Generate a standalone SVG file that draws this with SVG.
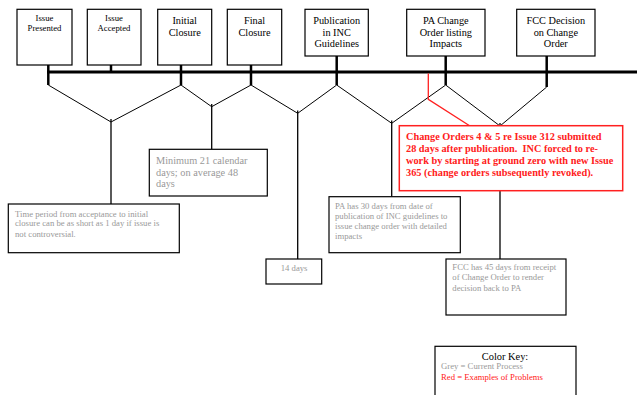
<svg xmlns="http://www.w3.org/2000/svg" width="637" height="395" viewBox="0 0 637 395">
<style>
text{font-family:"Liberation Serif","Times New Roman",serif;}
.box{fill:#fff;stroke:#000;stroke-width:1.2;}
.rbox{fill:#fff;stroke:#ff2020;stroke-width:1.5;}
.big{font-size:10.3px;fill:#000;text-anchor:middle;}
.sm{font-size:8.7px;fill:#000;text-anchor:middle;}
.g{font-size:8.7px;fill:#999;}
.gb{font-size:10.3px;fill:#999;}
.r{font-size:10.3px;fill:#ff2020;font-weight:bold;}
.thick{stroke:#000;stroke-width:3;fill:none;}
.stem{stroke:#000;stroke-width:2.5;fill:none;}
.thin{stroke:#000;stroke-width:1;fill:none;}
.drop{stroke:#000;stroke-width:1.3;fill:none;}
</style>
<rect width="637" height="395" fill="#fff"/>
<g id="connectors">
<line class="thick" x1="47" y1="72" x2="637" y2="72"/>
<line class="stem" x1="48.3" y1="65" x2="48.3" y2="85"/>
<line class="stem" x1="111" y1="65" x2="111" y2="72"/>
<line class="stem" x1="181" y1="65" x2="181" y2="85"/>
<line class="stem" x1="251" y1="65" x2="251" y2="85"/>
<line class="stem" x1="336.7" y1="56" x2="336.7" y2="85"/>
<line class="stem" x1="445.7" y1="56" x2="445.7" y2="85"/>
<line class="stem" x1="546.7" y1="56" x2="546.7" y2="87"/>
<polyline class="thin" points="48.3,85 111,122 181,85 211.7,106.7 251,85 297.7,113.3 336.7,85 391.7,123.3 445.7,85 500,126 546.7,87"/>
<line class="drop" x1="111" y1="119" x2="111" y2="204"/>
<line class="drop" x1="211.7" y1="104" x2="211.7" y2="149.3"/>
<line class="drop" x1="297.7" y1="110.5" x2="297.7" y2="259"/>
<line class="drop" x1="391.7" y1="120.5" x2="391.7" y2="196.7"/>
<line class="drop" x1="500" y1="123" x2="500" y2="259"/>
<polyline points="428.3,73.5 428.3,99.3 470,126" fill="none" stroke="#ff2020" stroke-width="1.3"/>
</g>
<g id="n-issue-presented">
<rect class="box" x="17" y="9.3" width="55" height="55.7"/>
<text class="sm" x="44.5" y="21.3">Issue</text>
<text class="sm" x="44.5" y="31.3">Presented</text>
</g>
<g id="n-issue-accepted">
<rect class="box" x="87.3" y="9.3" width="53.7" height="55.7"/>
<text class="sm" x="114" y="21.3">Issue</text>
<text class="sm" x="114" y="31.3">Accepted</text>
</g>
<g id="n-initial-closure">
<rect class="box" x="157.7" y="9.3" width="54" height="55.7"/>
<text class="big" x="184.7" y="23.5">Initial</text>
<text class="big" x="184.7" y="35.8">Closure</text>
</g>
<g id="n-final-closure">
<rect class="box" x="227.3" y="9.3" width="54.4" height="55.7"/>
<text class="big" x="254.5" y="23.5">Final</text>
<text class="big" x="254.5" y="35.8">Closure</text>
</g>
<g id="n-publication">
<rect class="box" x="305" y="9.3" width="63.3" height="46.7"/>
<text class="big" x="336.7" y="23.5">Publication</text>
<text class="big" x="336.7" y="35.5">in INC</text>
<text class="big" x="336.7" y="47">Guidelines</text>
</g>
<g id="n-pa-change">
<rect class="box" x="406.7" y="9.3" width="78.3" height="46.7"/>
<text class="big" x="445.8" y="23.5">PA Change</text>
<text class="big" x="445.8" y="35.5">Order listing</text>
<text class="big" x="445.8" y="47">Impacts</text>
</g>
<g id="n-fcc-decision">
<rect class="box" x="516.7" y="9.3" width="78.3" height="46.7"/>
<text class="big" x="555.8" y="23.5">FCC Decision</text>
<text class="big" x="555.8" y="35.5">on Change</text>
<text class="big" x="555.8" y="47">Order</text>
</g>
<g id="n-time-period">
<rect class="box" x="8.3" y="204" width="171" height="48.7"/>
<text class="g" x="15" y="217">Time period from acceptance to initial</text>
<text class="g" x="15" y="225.7">closure can be as short as 1 day if issue is</text>
<text class="g" x="15" y="237">not controversial.</text>
</g>
<g id="n-minimum">
<rect class="box" x="149.3" y="149.3" width="118" height="46.7"/>
<text class="gb" x="156" y="163.5">Minimum 21 calendar</text>
<text class="gb" x="156" y="175.8">days; on average 48</text>
<text class="gb" x="156" y="186.5">days</text>
</g>
<g id="n-14-days">
<rect class="box" x="266" y="259" width="55.7" height="25"/>
<text class="g" x="280.7" y="271.3">14 days</text>
</g>
<g id="n-pa-30">
<rect class="box" x="329" y="196.7" width="131.3" height="56"/>
<text class="g" x="335" y="208.7">PA has 30 days from date of</text>
<text class="g" x="335" y="218.7">publication of INC guidelines to</text>
<text class="g" x="335" y="228.7">issue change order with detailed</text>
<text class="g" x="335" y="238.7">impacts</text>
</g>
<g id="n-red-note">
<rect class="rbox" x="399.3" y="125.7" width="223.4" height="65"/>
<text class="r" x="406" y="140.2">Change Orders 4 &amp; 5 re Issue 312 submitted</text>
<text class="r" x="406" y="152.2">28 days after publication.&#160; INC forced to re-</text>
<text class="r" x="406" y="164.2">work by starting at ground zero with new Issue</text>
<text class="r" x="406" y="175.8">365 (change orders subsequently revoked).</text>
</g>
<g id="n-fcc-45">
<rect class="box" x="446" y="259" width="120" height="56"/>
<text class="g" x="452.3" y="270.3">FCC has 45 days from receipt</text>
<text class="g" x="452.3" y="280.3">of Change Order to render</text>
<text class="g" x="452.3" y="291.3">decision back to PA</text>
</g>
<g id="n-color-key">
<rect class="box" x="435" y="346.3" width="141" height="60"/>
<text x="505" y="360.2" font-size="10.4" text-anchor="middle" fill="#000">Color Key:</text>
<text class="g" x="441" y="369.3">Grey = Current Process</text>
<text x="441" y="380.3" font-size="8.7" fill="#ff2020">Red = Examples of Problems</text>
</g>
</svg>
